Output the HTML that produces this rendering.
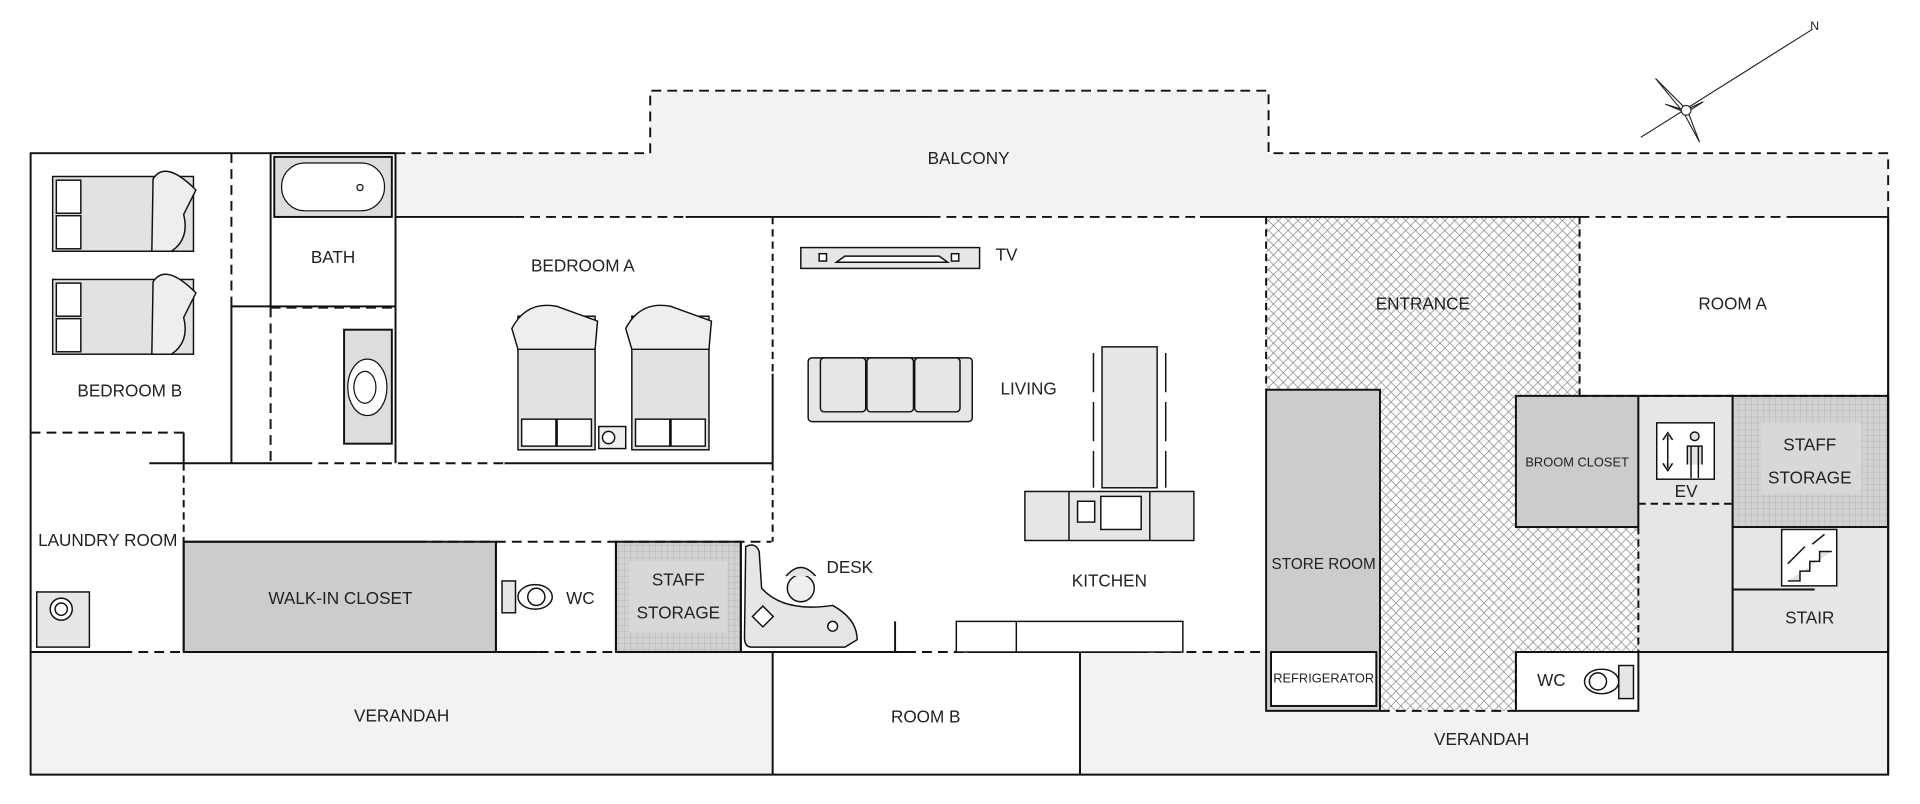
<!DOCTYPE html>
<html><head><meta charset="utf-8"><style>
html,body{margin:0;padding:0;background:#fff}
svg{display:block}
text{font-family:"Liberation Sans",sans-serif;font-size:14px;fill:#222;text-anchor:middle;dominant-baseline:middle}
</style></head><body>
<svg width="1920" height="804" viewBox="0 0 1568 656" preserveAspectRatio="none" xmlns="http://www.w3.org/2000/svg">
<defs>
<pattern id="hatch" width="8" height="8" patternUnits="userSpaceOnUse">
<rect width="8" height="8" fill="#fff"/>
<path d="M0,0 L8,8 M8,0 L0,8" stroke="#888" stroke-width="0.6"/>
</pattern>
<pattern id="grid" width="5" height="5" patternUnits="userSpaceOnUse">
<rect width="5" height="5" fill="#d2d2d2"/>
<path d="M0,0 H5 M0,0 V5" stroke="#aaa" stroke-width="0.6"/>
</pattern>
</defs>
<g stroke="#111" stroke-width="1.6" fill="none">
<path d="M323,125 H531 V74 H1036 V125 H1542 V177 H323 Z" fill="#f2f2f2" stroke="none"/>
<path d="M323,125 H531 V74 H1036 V125 H1542 V177" stroke-dasharray="8,5"/>
<rect x="25" y="532" width="606" height="100" fill="#f2f2f2" stroke="none"/>
<rect x="882" y="532" width="660" height="100" fill="#f2f2f2" stroke="none"/>
<path d="M1034,177 H1290 V323 H1238 V430 H1338 V532 H1238 V580 H1034 Z" fill="url(#hatch)" stroke="none"/>
<rect x="1034" y="318" width="93" height="262" fill="#cccccc"/>
<rect x="1038" y="532" width="86" height="44" fill="#fff"/>
<rect x="1238" y="532" width="100" height="48" fill="#fff"/>
<rect x="1238" y="323" width="100" height="107" fill="#cccccc"/>
<rect x="1338" y="323" width="77" height="209" fill="#e6e6e6" stroke="none"/>
<path d="M1338,430 V323 H1415 V532 H1338"/>
<line x1="1338" y1="430" x2="1338" y2="532" stroke-dasharray="6,4"/>
<line x1="1338" y1="411" x2="1415" y2="411" stroke-dasharray="6,4"/>
<rect x="1415" y="323" width="127" height="107" fill="url(#grid)"/>
<rect x="1438" y="345" width="82" height="58" fill="#d8d8d8" stroke="none"/>
<rect x="1415" y="430" width="127" height="102" fill="#e6e6e6"/>
<line x1="1415" y1="481" x2="1482" y2="481"/>
<rect x="150" y="442" width="255" height="90" fill="#cccccc"/>
<rect x="503" y="442" width="102" height="90" fill="url(#grid)"/>
<rect x="514" y="458" width="80" height="58" fill="#d8d8d8" stroke="none"/>
<path d="M323,125 H25 V632 H1542 V177"/>
<line x1="631" y1="532" x2="631" y2="632"/>
<line x1="882" y1="532" x2="882" y2="632"/>
<line x1="323" y1="177" x2="420" y2="177"/>
<line x1="420" y1="177" x2="560" y2="177" stroke-dasharray="8,5"/>
<line x1="560" y1="177" x2="760" y2="177"/>
<line x1="760" y1="177" x2="980" y2="177" stroke-dasharray="8,5"/>
<line x1="980" y1="177" x2="1290" y2="177"/>
<line x1="1290" y1="177" x2="1460" y2="177" stroke-dasharray="8,5"/>
<line x1="1460" y1="177" x2="1542" y2="177"/>
<line x1="189" y1="125" x2="189" y2="250" stroke-dasharray="8,5"/>
<line x1="189" y1="250" x2="189" y2="378"/>
<line x1="189" y1="250" x2="221" y2="250"/>
<rect x="221" y="125" width="102" height="125"/>
<line x1="221" y1="251" x2="323" y2="251" stroke-dasharray="8,5"/>
<line x1="221" y1="251" x2="221" y2="378" stroke-dasharray="8,5"/>
<line x1="323" y1="125" x2="323" y2="378"/>
<path d="M25,353 H143" stroke-dasharray="8,5"/>
<line x1="143" y1="353" x2="150" y2="353"/>
<line x1="150" y1="353" x2="150" y2="378"/>
<line x1="122" y1="378" x2="247" y2="378"/>
<line x1="247" y1="378" x2="412" y2="378" stroke-dasharray="8,5"/>
<line x1="412" y1="378" x2="631" y2="378"/>
<line x1="150" y1="378" x2="150" y2="442" stroke-dasharray="6,4"/>
<line x1="150" y1="442" x2="150" y2="532"/>
<line x1="631" y1="177" x2="631" y2="305" stroke-dasharray="6,4"/>
<line x1="631" y1="305" x2="631" y2="378"/>
<line x1="631" y1="378" x2="631" y2="442" stroke-dasharray="6,4"/>
<line x1="150" y1="442" x2="340" y2="442"/>
<line x1="340" y1="442" x2="630" y2="442" stroke-dasharray="8,5"/>
<line x1="405" y1="442" x2="405" y2="532"/>
<line x1="503" y1="442" x2="503" y2="532"/>
<line x1="605" y1="442" x2="605" y2="532"/>
<line x1="25" y1="532" x2="100" y2="532"/>
<line x1="100" y1="532" x2="150" y2="532" stroke-dasharray="8,5"/>
<line x1="150" y1="532" x2="440" y2="532"/>
<line x1="440" y1="532" x2="503" y2="532" stroke-dasharray="8,5"/>
<line x1="503" y1="532" x2="740" y2="532"/>
<line x1="740" y1="532" x2="790" y2="532" stroke-dasharray="8,5"/>
<line x1="790" y1="532" x2="930" y2="532"/>
<line x1="930" y1="532" x2="1034" y2="532" stroke-dasharray="8,5"/>
<line x1="1338" y1="532" x2="1420" y2="532" stroke-dasharray="8,5"/>
<line x1="1420" y1="532" x2="1542" y2="532"/>
<line x1="731" y1="507" x2="731" y2="532"/>
<line x1="1034" y1="177" x2="1034" y2="318" stroke-dasharray="6,4"/>
<line x1="1290" y1="177" x2="1290" y2="323" stroke-dasharray="6,4"/>
<line x1="1238" y1="532" x2="1238" y2="580" stroke-dasharray="6,4"/>
<line x1="1127" y1="580" x2="1238" y2="580" stroke-dasharray="8,5"/>
<line x1="1290" y1="323" x2="1542" y2="323" stroke-dasharray="6,4"/>
<line x1="1542" y1="177" x2="1542" y2="632"/>
<rect x="224" y="128" width="96" height="49" fill="#ddd"/>
<rect x="230" y="133" width="84" height="39" rx="19" fill="#fff" stroke-width="1"/>
<circle cx="294" cy="153" r="2.5" stroke-width="1"/>
<rect x="281" y="269" width="39" height="93" fill="#ddd"/>
<ellipse cx="300" cy="316" rx="16" ry="23" fill="#fff" stroke-width="1"/>
<ellipse cx="298" cy="316" rx="9" ry="13" fill="#fff" stroke-width="1"/>
<g stroke-width="1.2" fill="#e2e2e2">
<rect x="43" y="144" width="115" height="61"/><rect x="46" y="147" width="20" height="27" fill="#fff"/><rect x="46" y="176" width="20" height="27" fill="#fff"/>
<path d="M125,146 Q135,130 160,155 L150,175 Q155,195 140,205 L124,205 Z" fill="#eee"/>
<rect x="43" y="228" width="115" height="61"/><rect x="46" y="231" width="20" height="27" fill="#fff"/><rect x="46" y="260" width="20" height="27" fill="#fff"/>
<path d="M125,230 Q135,214 160,239 L150,259 Q155,279 140,289 L124,289 Z" fill="#eee"/>
<rect x="423" y="258" width="63" height="109"/><rect x="426" y="342" width="28" height="22" fill="#fff"/><rect x="455" y="342" width="28" height="22" fill="#fff"/>
<path d="M418,268 Q430,245 455,250 L488,262 L486,285 L423,285 Z" fill="#eee"/>
<rect x="516" y="258" width="63" height="109"/><rect x="519" y="342" width="28" height="22" fill="#fff"/><rect x="548" y="342" width="28" height="22" fill="#fff"/>
<path d="M511,268 Q523,245 548,250 L581,262 L579,285 L516,285 Z" fill="#eee"/>
<rect x="489" y="348" width="22" height="18" fill="#eee"/><circle cx="497" cy="357" r="5" fill="#fff"/>
<rect x="654" y="202" width="146" height="17" fill="#e6e6e6"/>
<rect x="669" y="207" width="6" height="6" fill="#fff"/><rect x="777" y="207" width="6" height="6" fill="#fff"/>
<path d="M683,214 L690,209 H767 L774,214 Z" fill="#fff"/>
<rect x="660" y="292" width="134" height="52" rx="3" fill="#e6e6e6"/>
<rect x="670" y="292" width="37" height="44" rx="3" fill="#e6e6e6"/><rect x="708" y="292" width="38" height="44" rx="3" fill="#e6e6e6"/><rect x="747" y="292" width="37" height="44" rx="3" fill="#e6e6e6"/>
<rect x="900" y="283" width="45" height="115" fill="#e6e6e6"/>
<path d="M893,288 V320 M893,328 V360 M893,368 V398 M952,288 V320 M952,328 V360 M952,368 V398"/>
<rect x="837" y="401" width="138" height="40" fill="#e6e6e6"/>
<line x1="873" y1="401" x2="873" y2="441"/><line x1="939" y1="401" x2="939" y2="441"/>
<rect x="880" y="409" width="14" height="17" fill="#fff"/><rect x="899" y="405" width="33" height="27" fill="#fff"/>
<rect x="781" y="507" width="185" height="25" fill="#fff"/><line x1="830" y1="507" x2="830" y2="532"/>
<path d="M609,446 Q617,442 620,450 L622,480 Q640,500 680,494 Q700,505 700,522 L690,528 L614,528 Q608,528 608,520 Z" fill="#e6e6e6"/>
<circle cx="654" cy="480" r="11" fill="#eee"/>
<path d="M642,470 Q654,456 666,470"/>
<rect x="617" y="497" width="12" height="12" transform="rotate(45 623 503)" fill="#fff"/>
<circle cx="680" cy="511" r="4" fill="#fff"/>
<rect x="410" y="474" width="11" height="26" fill="#e6e6e6"/><ellipse cx="437" cy="487" rx="14" ry="10" fill="#fff"/><ellipse cx="438" cy="487" rx="7" ry="7" fill="#fff"/>
<rect x="1322" y="543" width="12" height="27" fill="#e6e6e6"/><ellipse cx="1308" cy="556" rx="14" ry="10" fill="#fff"/><ellipse cx="1305" cy="556" rx="7" ry="7" fill="#fff"/>
<rect x="30" y="483" width="43" height="45" fill="#e6e6e6"/><circle cx="50" cy="497" r="9" fill="#fff"/><circle cx="50" cy="497" r="5" fill="#fff"/>
<rect x="1353" y="345" width="47" height="46" fill="#fff"/>
<path d="M1362,355 V382 M1358,359 L1362,353 L1366,359 M1358,378 L1362,384 L1366,378"/>
<circle cx="1384" cy="356" r="3.5"/><path d="M1378,379 V364 H1390 V379 M1381,364 V390 M1387,364 V390"/>
<rect x="1455" y="432" width="45" height="46" fill="#fff"/>
<path d="M1460,474 H1470 V466 H1478 V458 H1486 V450 H1496"/>
<path d="M1460,460 L1474,446 M1480,444 L1490,436"/>
</g>
</g>
<g stroke="#222" stroke-width="0.9" fill="#fff">
<line x1="1340" y1="112" x2="1480" y2="24"/>
<path d="M1352,64 L1378,90 L1388,116 L1375,92 Z"/>
<path d="M1360,85 L1376,90 L1391,83 L1377,92 Z"/>
<circle cx="1377" cy="90" r="4"/>
</g>
<text x="1482" y="22" style="font-size:10px">N</text>
<text x="791" y="130">BALCONY</text>
<text x="106" y="320">BEDROOM B</text>
<text x="272" y="211">BATH</text>
<text x="476" y="218">BEDROOM A</text>
<text x="88" y="442">LAUNDRY ROOM</text>
<text x="278" y="489">WALK-IN CLOSET</text>
<text x="474" y="489">WC</text>
<text x="554" y="474">STAFF</text>
<text x="554" y="501">STORAGE</text>
<text x="694" y="464">DESK</text>
<text x="328" y="585">VERANDAH</text>
<text x="756" y="586">ROOM B</text>
<text x="822" y="209">TV</text>
<text x="840" y="318">LIVING</text>
<text x="906" y="475">KITCHEN</text>
<text x="1162" y="249">ENTRANCE</text>
<text x="1415" y="249">ROOM A</text>
<text x="1081" y="461" style="font-size:12.5px">STORE ROOM</text>
<text x="1081" y="554" style="font-size:10.5px">REFRIGERATOR</text>
<text x="1288" y="378" style="font-size:10.5px">BROOM CLOSET</text>
<text x="1377" y="402">EV</text>
<text x="1478" y="364">STAFF</text>
<text x="1478" y="391">STORAGE</text>
<text x="1478" y="505">STAIR</text>
<text x="1267" y="556">WC</text>
<text x="1210" y="604">VERANDAH</text>
</svg>
</body></html>
